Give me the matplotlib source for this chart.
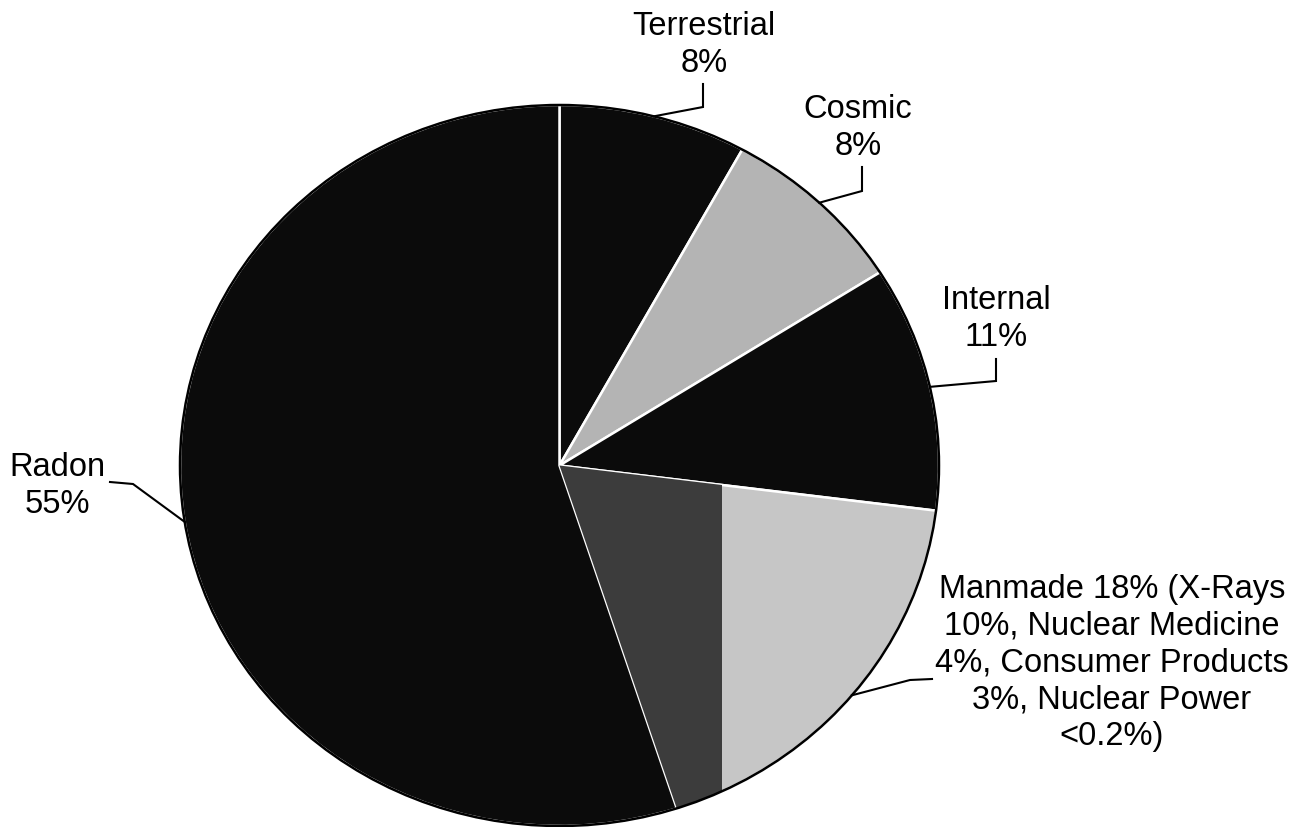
import numpy as np
import matplotlib
matplotlib.use("Agg")
import matplotlib.pyplot as plt
from matplotlib.patches import Circle, Rectangle

# natural background radiation sources (percent of dose)
sources = ["Terrestrial", "Cosmic", "Internal", "Manmade", "Radon"]
shares = [8, 8, 11, 18, 55]
labels = ["Terrestrial\n8%", "Cosmic\n8%", "Internal\n11%",
          "Manmade 18% (X-Rays\n10%, Nuclear Medicine\n4%, Consumer Products\n3%, Nuclear Power\n<0.2%)",
          "Radon\n55%"]
colors = ["#0b0b0b", "#b4b4b4", "#0b0b0b", "#c6c6c6", "#0b0b0b"]

plt.rcParams['font.family'] = ['Liberation Sans', 'DejaVu Sans']

W, H = 1301, 828
CX, CY, RX, RY = 559.5, 466.5, 379.5, 360.5


def px(x, y):
    # pixel position -> data coords (pie radius = 1)
    return (x - CX) / RX, (CY - y) / RY


fig = plt.figure(figsize=(W / 100, H / 100), dpi=100)
ax = fig.add_axes([0, 0, 1, 1])

wedges, _ = ax.pie(shares, colors=colors, startangle=90, counterclock=False,
                   wedgeprops=dict(edgecolor="white", linewidth=1.8))
ax.set_aspect("auto")
ax.set_xlim(px(0, 0)[0], px(W, 0)[0])
ax.set_ylim(px(0, H)[1], px(0, 0)[1])
ax.axis("off")

# darker band inside the manmade slice
band = Rectangle(px(0, H), px(722, 0)[0] - px(0, 0)[0], 3, facecolor="#3c3c3c",
                 edgecolor="none", zorder=wedges[3].get_zorder() + 0.1)
ax.add_patch(band)
band.set_clip_path(wedges[3])

ax.add_patch(Circle((0, 0), 1, fill=False, edgecolor="black", linewidth=1.8, zorder=5))

# slice mid angles for leader lines
cum = np.cumsum([0] + shares)
mids = [90 - 3.6 * (cum[i] + shares[i] / 2) for i in range(len(shares))]

# baseline of the last text line
text_pos = [(704, 72), (858, 155), (996, 346), (1112, 745), (57, 513)]
elbows = [[(703, 85), (703, 108)],
          [(862, 168), (862, 192)],
          [(996, 360), (996, 382)],
          [(932, 680), (910, 681)],
          [(110, 483), (133, 485)]]

for lab, (tx, ty), elb, m in zip(labels, text_pos, elbows, mids):
    x, y = px(tx, ty)
    ax.text(x, y, lab, ha="center", va="baseline", fontsize=23.5,
            linespacing=1.24, color="black")
    pts = [px(*p) for p in elb] + [(np.cos(np.radians(m)), np.sin(np.radians(m)))]
    ax.plot([p[0] for p in pts], [p[1] for p in pts], color="black", lw=1.5,
            solid_joinstyle="miter", zorder=6)

fig.savefig("out.png", dpi=100, facecolor="white")
